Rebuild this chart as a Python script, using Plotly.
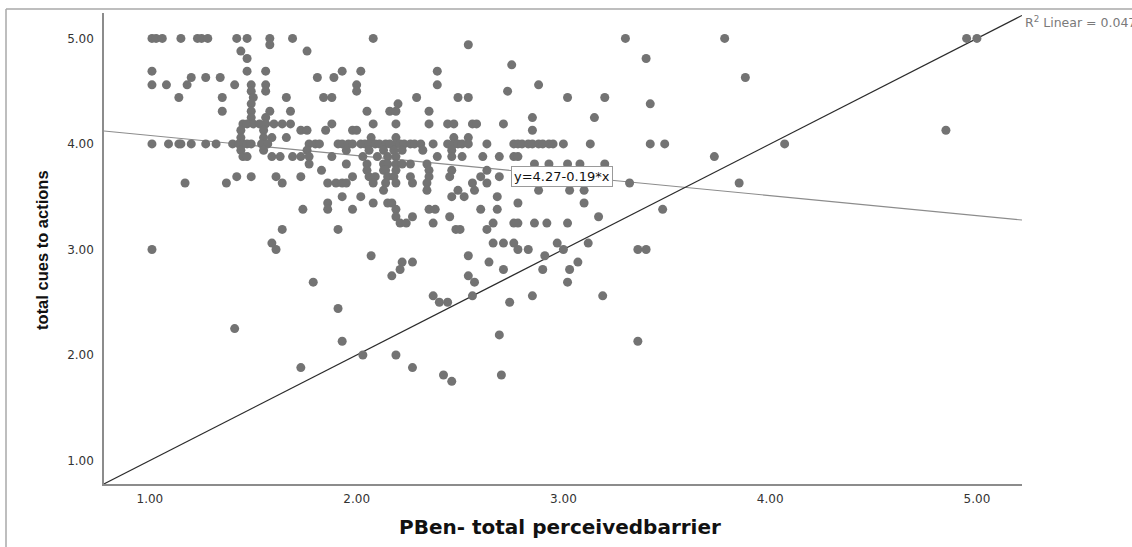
import plotly.graph_objects as go

# PBen - total perceived barrier (x), one line per cues level
pben = [
    1.01, 1.03, 1.06, 1.15, 1.23, 1.25, 1.28, 1.42, 1.47, 1.58, 1.69, 2.08, 3.30, 3.78, 4.95, 5.00,
    1.58, 2.54,
    1.44, 1.76,
    1.47, 3.40,
    2.75,
    1.01, 1.47, 1.56, 1.93, 2.02, 2.39,
    1.20, 1.27, 1.34, 1.81, 1.89, 3.88,
    1.01, 1.08, 1.18, 1.41, 1.49, 1.56, 2.00, 2.39, 2.88,
    1.49, 1.56, 2.00, 2.73,
    1.14, 1.35, 1.50, 1.66, 1.84, 1.88, 2.29, 2.49, 2.54, 3.02, 3.20,
    1.49, 2.20, 3.42,
    1.35, 1.49, 1.58, 1.68, 2.05, 2.16, 2.19, 2.35,
    1.49, 1.56, 2.85, 3.15,
    1.45, 1.47, 1.50, 1.53, 1.56, 1.60, 1.64, 1.68, 1.88, 2.08, 2.19, 2.35, 2.44, 2.47, 2.56, 2.58, 2.71,
    1.44, 1.55, 1.73, 1.76, 1.85, 1.98, 2.00, 2.85, 4.85,
    1.44, 1.55, 1.59, 1.66, 2.07, 2.19, 2.47, 2.54,
    1.01, 1.09, 1.14, 1.15, 1.20, 1.27, 1.32, 1.40, 1.43, 1.45, 1.47,
    1.49, 1.54, 1.57, 1.77, 1.80, 1.82, 1.91, 1.93, 1.96, 1.98, 2.02,
    2.04, 2.06, 2.09, 2.11, 2.14, 2.16, 2.19, 2.21, 2.23, 2.26, 2.28,
    2.31, 2.37, 2.44, 2.47, 2.49, 2.51, 2.54, 2.63, 2.76, 2.78, 2.80,
    2.83, 2.85, 2.88, 2.90, 2.93, 2.95, 3.00, 3.13, 3.42, 3.49, 4.07,
    1.44, 1.55, 1.76, 1.95, 2.06, 2.13, 2.18, 2.22, 2.32, 2.46,
    1.45, 1.47, 1.59, 1.63, 1.69, 1.73, 1.77, 1.88, 2.03, 2.10, 2.15, 2.19, 2.39, 2.46, 2.51, 2.61, 2.69, 2.76, 2.78, 3.73,
    1.77, 1.95, 2.05, 2.13, 2.15, 2.19, 2.22, 2.26, 2.34, 2.86, 2.93, 3.02, 3.08, 3.20,
    1.83, 2.05, 2.13, 2.14, 2.19, 2.35, 2.46, 2.63,
    1.42, 1.49, 1.61, 1.73, 1.98, 2.06, 2.09, 2.15, 2.18, 2.26, 2.35, 2.45, 2.60, 2.69,
    1.17, 1.37, 1.64, 1.86, 1.90, 1.93, 1.95, 2.08, 2.14, 2.19, 2.27, 2.34, 2.56, 2.63, 3.32, 3.85,
    2.13, 2.34, 2.49, 2.57, 2.88, 3.03, 3.10,
    1.93, 2.02, 2.46, 2.52, 2.68,
    1.86, 2.08, 2.15, 2.17, 2.78, 3.10,
    1.74, 1.86, 1.98, 2.19, 2.35, 2.38, 2.60, 2.68, 3.48,
    2.19, 2.27, 2.45, 3.17,
    2.21, 2.24, 2.37, 2.66, 2.76, 2.78, 2.86, 2.92, 3.02,
    1.64, 1.91, 2.48, 2.50, 2.63,
    1.59, 2.66, 2.71, 2.76, 2.97, 3.12,
    1.01, 1.61, 2.78, 2.83, 3.00, 3.36, 3.40,
    2.07, 2.54, 2.91,
    2.22, 2.27, 2.64, 3.07,
    2.21, 2.71, 2.90, 3.03,
    2.17, 2.54,
    1.79, 2.57, 3.02,
    2.37, 2.56, 2.85, 3.19,
    2.40, 2.44, 2.74,
    1.91,
    1.41,
    2.69,
    1.93, 3.36,
    2.03, 2.19,
    1.73, 2.27,
    2.42, 2.70,
    2.46,
]

# total cues to actions (y), matching pben line by line
cues = [
    5.00, 5.00, 5.00, 5.00, 5.00, 5.00, 5.00, 5.00, 5.00, 5.00, 5.00, 5.00, 5.00, 5.00, 5.00, 5.00,
    4.94, 4.94,
    4.88, 4.88,
    4.81, 4.81,
    4.75,
    4.69, 4.69, 4.69, 4.69, 4.69, 4.69,
    4.63, 4.63, 4.63, 4.63, 4.63, 4.63,
    4.56, 4.56, 4.56, 4.56, 4.56, 4.56, 4.56, 4.56, 4.56,
    4.50, 4.50, 4.50, 4.50,
    4.44, 4.44, 4.44, 4.44, 4.44, 4.44, 4.44, 4.44, 4.44, 4.44, 4.44,
    4.38, 4.38, 4.38,
    4.31, 4.31, 4.31, 4.31, 4.31, 4.31, 4.31, 4.31,
    4.25, 4.25, 4.25, 4.25,
    4.19, 4.19, 4.19, 4.19, 4.19, 4.19, 4.19, 4.19, 4.19, 4.19, 4.19, 4.19, 4.19, 4.19, 4.19, 4.19, 4.19,
    4.13, 4.13, 4.13, 4.13, 4.13, 4.13, 4.13, 4.13, 4.13,
    4.06, 4.06, 4.06, 4.06, 4.06, 4.06, 4.06, 4.06,
    4.00, 4.00, 4.00, 4.00, 4.00, 4.00, 4.00, 4.00, 4.00, 4.00, 4.00,
    4.00, 4.00, 4.00, 4.00, 4.00, 4.00, 4.00, 4.00, 4.00, 4.00, 4.00,
    4.00, 4.00, 4.00, 4.00, 4.00, 4.00, 4.00, 4.00, 4.00, 4.00, 4.00,
    4.00, 4.00, 4.00, 4.00, 4.00, 4.00, 4.00, 4.00, 4.00, 4.00, 4.00,
    4.00, 4.00, 4.00, 4.00, 4.00, 4.00, 4.00, 4.00, 4.00, 4.00, 4.00,
    3.94, 3.94, 3.94, 3.94, 3.94, 3.94, 3.94, 3.94, 3.94, 3.94,
    3.88, 3.88, 3.88, 3.88, 3.88, 3.88, 3.88, 3.88, 3.88, 3.88, 3.88, 3.88, 3.88, 3.88, 3.88, 3.88, 3.88, 3.88, 3.88, 3.88,
    3.81, 3.81, 3.81, 3.81, 3.81, 3.81, 3.81, 3.81, 3.81, 3.81, 3.81, 3.81, 3.81, 3.81,
    3.75, 3.75, 3.75, 3.75, 3.75, 3.75, 3.75, 3.75,
    3.69, 3.69, 3.69, 3.69, 3.69, 3.69, 3.69, 3.69, 3.69, 3.69, 3.69, 3.69, 3.69, 3.69,
    3.63, 3.63, 3.63, 3.63, 3.63, 3.63, 3.63, 3.63, 3.63, 3.63, 3.63, 3.63, 3.63, 3.63, 3.63, 3.63,
    3.56, 3.56, 3.56, 3.56, 3.56, 3.56, 3.56,
    3.50, 3.50, 3.50, 3.50, 3.50,
    3.44, 3.44, 3.44, 3.44, 3.44, 3.44,
    3.38, 3.38, 3.38, 3.38, 3.38, 3.38, 3.38, 3.38, 3.38,
    3.31, 3.31, 3.31, 3.31,
    3.25, 3.25, 3.25, 3.25, 3.25, 3.25, 3.25, 3.25, 3.25,
    3.19, 3.19, 3.19, 3.19, 3.19,
    3.06, 3.06, 3.06, 3.06, 3.06, 3.06,
    3.00, 3.00, 3.00, 3.00, 3.00, 3.00, 3.00,
    2.94, 2.94, 2.94,
    2.88, 2.88, 2.88, 2.88,
    2.81, 2.81, 2.81, 2.81,
    2.75, 2.75,
    2.69, 2.69, 2.69,
    2.56, 2.56, 2.56, 2.56,
    2.50, 2.50, 2.50,
    2.44,
    2.25,
    2.19,
    2.13, 2.13,
    2.00, 2.00,
    1.88, 1.88,
    1.81, 1.81,
    1.75,
]

assert len(pben) == len(cues), (len(pben), len(cues))

x_ticks = [1.00, 2.00, 3.00, 4.00, 5.00]
y_ticks = [1.00, 2.00, 3.00, 4.00, 5.00]
fit_intercept = 4.27
fit_slope = -0.19
r2_value = 0.047
axis_range_x = [0.778, 5.218]
axis_range_y = [0.777, 5.241]

SANS = "Liberation Sans, Arial, sans-serif"
WIDE = "DejaVu Sans, Verdana, sans-serif"

fig = go.Figure()

# fit line
fx = axis_range_x
fy = [fit_intercept + fit_slope * v for v in fx]
fig.add_trace(go.Scatter(x=fx, y=fy, mode="lines",
                         line=dict(color="#8c8c8c", width=1.1),
                         hoverinfo="skip", showlegend=False))

# reference y = x line
fig.add_trace(go.Scatter(x=axis_range_x, y=axis_range_x, mode="lines",
                         line=dict(color="#2b2b2b", width=1.2),
                         hoverinfo="skip", showlegend=False))

# points
fig.add_trace(go.Scatter(x=pben, y=cues, mode="markers",
                         marker=dict(color="#737373", size=9, line=dict(width=0)),
                         showlegend=False))

fig.update_layout(
    width=1132, height=547,
    margin=dict(l=104, r=110, t=13, b=63),
    paper_bgcolor="white", plot_bgcolor="white",
    font=dict(family=WIDE, color="#222222"),
    showlegend=False,
    xaxis=dict(range=axis_range_x, tickvals=x_ticks, tickformat=".2f",
               showgrid=False, zeroline=False, ticks="",
               showline=True, linecolor="#8c8c8c", linewidth=1.5,
               tickfont=dict(size=12, family=WIDE, color="#333333"),
               ticklabelstandoff=3),
    yaxis=dict(range=axis_range_y, tickvals=y_ticks, tickformat=".2f",
               showgrid=False, zeroline=False, ticks="",
               showline=True, linecolor="#8c8c8c", linewidth=1.5,
               tickfont=dict(size=12, family=WIDE, color="#333333"),
               ticklabelstandoff=6),
)

fig.add_annotation(x=2.993, y=3.692, xref="x", yref="y",
                   text="y=4.27-0.19*x", showarrow=False,
                   font=dict(size=13, family=WIDE, color="#111111"),
                   bgcolor="white", bordercolor="#9a9a9a", borderwidth=1, borderpad=2)

fig.add_annotation(x=1.001, y=0.981, xref="paper", yref="paper",
                   xanchor="left", yanchor="middle",
                   text="R<sup>2</sup> Linear = %.3f" % r2_value, showarrow=False,
                   font=dict(size=12.5, family=WIDE, color="#7a7a7a"))

fig.add_annotation(x=0.497, y=-0.0913, xref="paper", yref="paper",
                   xanchor="center", yanchor="middle",
                   text="<b>PBen- total perceivedbarrier</b>", showarrow=False,
                   font=dict(size=20, family=WIDE, color="#111111"))

fig.add_annotation(x=-0.0675, y=0.497, xref="paper", yref="paper",
                   xanchor="center", yanchor="middle", textangle=-90,
                   text="<b>total cues to actions</b>", showarrow=False,
                   font=dict(size=16.5, family=SANS, color="#111111"))

# outer frame lines (top and left)
fig.add_shape(type="line", xref="paper", yref="paper",
              x0=-0.10675, x1=1.12, y0=1.00849, y1=1.00849,
              line=dict(color="#a8a8a8", width=1.5))
fig.add_shape(type="line", xref="paper", yref="paper",
              x0=-0.10675, x1=-0.10675, y0=1.00849, y1=-0.14,
              line=dict(color="#a8a8a8", width=1.5))

fig.write_html("out.html")
